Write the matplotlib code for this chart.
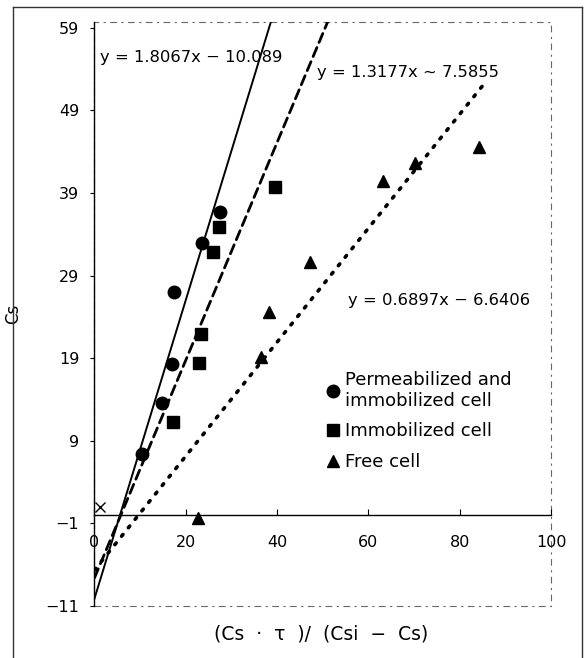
import numpy as np
import matplotlib
matplotlib.use("Agg")
import matplotlib.pyplot as plt
from matplotlib.patches import Rectangle
from matplotlib.lines import Line2D

# permeabilized and immobilized cell
perm_x = [10.4, 14.8, 17.0, 17.5, 23.5, 27.5]
perm_y = [7.4, 13.6, 18.3, 27.0, 33.0, 36.7]
# immobilized cell
immo_x = [17.3, 22.9, 23.3, 26.0, 27.3, 39.5]
immo_y = [11.3, 18.4, 21.9, 31.9, 34.9, 39.7]
# free cell
free_x = [22.7, 36.4, 38.2, 47.2, 63.3, 70.3, 84.3]
free_y = [-0.4, 19.1, 24.6, 30.6, 40.5, 42.6, 44.6]
# stray mark near the origin
other_x = [1.2]
other_y = [1.0]

# trendlines (slope, intercept, x end)
fits = {
    "perm": (1.8067, -10.089, 40),
    "immo": (1.3177, -7.5855, 52),
    "free": (0.6897, -6.6406, 85),
}
eq_labels = ["y = 1.8067x \u2212 10.089", "y = 1.3177x ~ 7.5855", "y = 0.6897x \u2212 6.6406"]

xticks = [0, 20, 40, 60, 80, 100]
yticks = [-11, -1, 9, 19, 29, 39, 49, 59]

plt.rcParams['font.family'] = ['DejaVu Sans']

fig = plt.figure(figsize=(5.84, 6.58), dpi=100)
ax = fig.add_axes([0.1618, 0.0790, 0.7817, 0.8875])

ax.set_xlim(0, 100)
ax.set_ylim(-11, 59.7)

# trendlines
for key, ls, lw in [("perm", "-", 1.4), ("immo", (0, (3.5, 2)), 2.0), ("free", (0, (0.6, 2.4)), 2.6)]:
    m, b, xe = fits[key]
    xx = np.linspace(0, xe, 50)
    ax.plot(xx, m * xx + b, color="black", linestyle=ls, linewidth=lw,
            dash_capstyle="round", clip_on=True, zorder=2)

ax.plot(perm_x, perm_y, "o", color="black", ms=9, label="Permeabilized and\nimmobilized cell", zorder=3)
ax.plot(immo_x, immo_y, "s", color="black", ms=8.5, label="Immobilized cell", zorder=3)
ax.plot(free_x, free_y, "^", color="black", ms=9, label="Free cell", zorder=3)
ax.plot(other_x, other_y, "x", color="black", ms=7, mew=1.0, zorder=3)

# equations
ax.text(1.2, 55.4, eq_labels[0], fontsize=11.8, va="center", ha="left")
ax.text(48.8, 53.6, eq_labels[1], fontsize=11.8, va="center", ha="left")
ax.text(55.6, 26.0, eq_labels[2], fontsize=11.8, va="center", ha="left")

# axes styling: x axis crosses at 0
ax.spines["bottom"].set_position(("data", 0))
ax.spines["bottom"].set_linewidth(1.0)
ax.spines["left"].set_linewidth(1.0)
ax.spines["top"].set_visible(False)
ax.spines["right"].set_visible(False)
ax.add_patch(Rectangle((0, 0), 1, 1, transform=ax.transAxes, fill=False,
                       edgecolor="#666666", linewidth=0.8, linestyle=(0, (6, 4, 2, 4)),
                       zorder=1, clip_on=False))

ax.set_xticks(xticks)
ax.set_yticks(yticks)
ax.tick_params(axis="x", direction="in", length=4, pad=14, labelsize=11.5)
ax.tick_params(axis="y", direction="out", length=3, pad=8, labelsize=11.5)
ax.set_yticklabels([str(t).replace("-", "\u2212") for t in yticks])

ax.set_ylabel("Cs", fontsize=12)
ax.yaxis.set_label_coords(-0.159, 0.5)
ax.set_xlabel("(Cs  \u00b7  \u03c4  )/  (Csi  \u2212  Cs)", fontsize=13.5)
ax.xaxis.set_label_coords(0.497, -0.031)

ax.legend(loc="upper left", bbox_to_anchor=(0.495, 0.415), frameon=False,
          fontsize=13, handlelength=0.6, handletextpad=0.35, labelspacing=0.7,
          borderaxespad=0)

# page frame
fc = "#333333"
fig.add_artist(Line2D([13 / 584, 13 / 584], [0, 1 - 7 / 658], color=fc, lw=1.0))
fig.add_artist(Line2D([13 / 584, 582 / 584], [1 - 7 / 658, 1 - 7 / 658], color=fc, lw=1.0))
fig.add_artist(Line2D([582 / 584, 582 / 584], [0, 1 - 7 / 658], color=fc, lw=1.0))

fig.savefig("out.png", dpi=100)
